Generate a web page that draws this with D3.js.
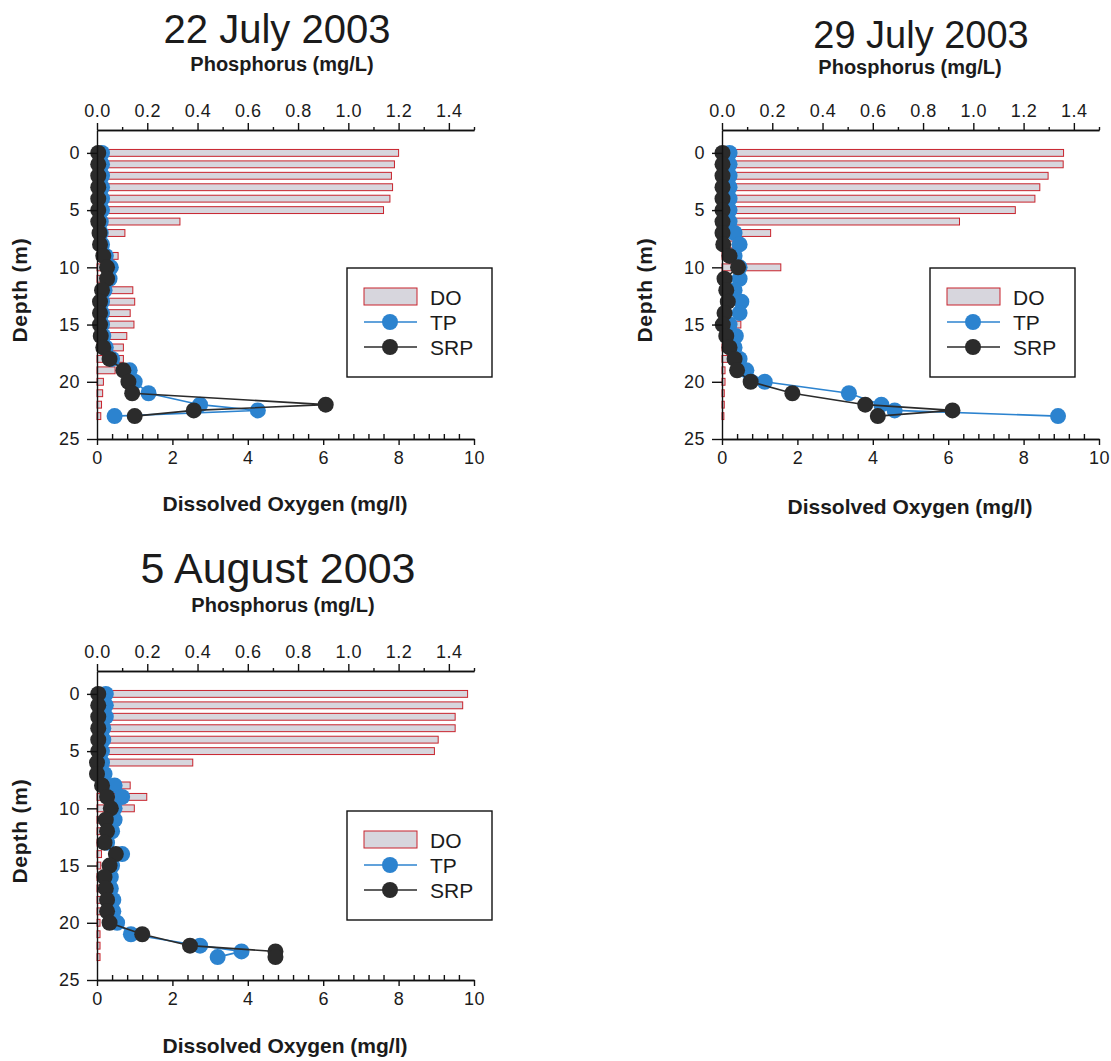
<!DOCTYPE html>
<html>
<head>
<meta charset="utf-8">
<script src="https://cdn.jsdelivr.net/npm/d3@7"></script>
<style>
  body { margin: 0; background: #fff; }
  text { font-family: "Liberation Sans", Arial, sans-serif; fill: #1b1b1b; }
</style>
</head>
<body>
<div id="chart"></div>
<script>
// depth (m) of each DO reading
const doDepths = [0, 1, 2, 3, 4, 5, 6, 7, 8, 9, 10, 11, 12, 13, 14, 15, 16, 17, 18, 19, 20, 21, 22, 23]
// dissolved oxygen (mg/l)
const do22Jul = [8.0, 7.89, 7.81, 7.84, 7.77, 7.6, 2.2, 0.74, 0.2, 0.56, 0.2, 0.2, 0.95, 1.0, 0.88, 0.98, 0.79, 0.7, 0.7, 0.48, 0.17, 0.15, 0.12, 0.1]
const do29Jul = [9.06, 9.05, 8.65, 8.43, 8.3, 7.78, 6.3, 1.29, 0.6, 0.2, 1.56, 0.2, 0.2, 0.2, 0.2, 0.5, 0.2, 0.2, 0.15, 0.08, 0.08, 0.06, 0.06, 0.05]
const do05Aug = [9.83, 9.7, 9.5, 9.5, 9.05, 8.95, 2.54, 0.2, 0.88, 1.32, 0.99, 0.2, 0.2, 0.2, 0.12, 0.1, 0.1, 0.1, 0.1, 0.1, 0.08, 0.08, 0.08, 0.08]

// depth (m) of each phosphorus sample
const pDepths = [0, 1, 2, 3, 4, 5, 6, 7, 8, 9, 10, 11, 12, 13, 14, 15, 16, 17, 18, 19, 20, 21, 22, 22.5, 23]
// total phosphorus / soluble reactive phosphorus (mg/L)
const tp22Jul = [0.02, 0.02, 0.02, 0.02, 0.02, 0.02, 0.015, 0.015, 0.02, 0.035, 0.055, 0.05, 0.03, 0.02, 0.02, 0.02, 0.025, 0.035, 0.06, 0.13, 0.15, 0.205, 0.41, 0.64, 0.07]
const srp22Jul = [0.005, 0.005, 0.005, 0.005, 0.005, 0.005, 0.005, 0.01, 0.012, 0.025, 0.04, 0.04, 0.02, 0.012, 0.012, 0.012, 0.015, 0.025, 0.05, 0.105, 0.125, 0.14, 0.91, 0.385, 0.15]
const tp29Jul = [0.03, 0.03, 0.03, 0.03, 0.03, 0.03, 0.03, 0.05, 0.07, 0.05, 0.07, 0.07, 0.05, 0.077, 0.07, 0.03, 0.055, 0.05, 0.07, 0.097, 0.17, 0.505, 0.634, 0.687, 1.337]
const srp29Jul = [0.002, 0.002, 0.002, 0.002, 0.002, 0.002, 0.002, 0.002, 0.005, 0.03, 0.064, 0.01, 0.017, 0.023, 0.01, 0.003, 0.017, 0.03, 0.05, 0.06, 0.114, 0.28, 0.57, 0.917, 0.62]
const tp05Aug = [0.035, 0.035, 0.035, 0.025, 0.025, 0.02, 0.02, 0.03, 0.07, 0.1, 0.07, 0.07, 0.06, 0.04, 0.1, 0.06, 0.055, 0.055, 0.065, 0.065, 0.08, 0.135, 0.41, 0.575, 0.48]
const srp05Aug = [0.005, 0.005, 0.005, 0.005, 0.005, 0.005, 0.0, 0.0, 0.02, 0.04, 0.055, 0.035, 0.04, 0.03, 0.075, 0.05, 0.03, 0.035, 0.04, 0.04, 0.05, 0.18, 0.37, 0.71, 0.71]

const pTicks = [0, 0.2, 0.4, 0.6, 0.8, 1.0, 1.2, 1.4]
const doTicks = [0, 2, 4, 6, 8, 10]
const depthTicks = [0, 5, 10, 15, 20, 25]
const seriesNames = ["DO", "TP", "SRP"]

const panels = [
  { title: "22 July 2003", left: 97, top: 130, doV: do22Jul, tp: tp22Jul, srp: srp22Jul,
    titleX: 180, titleY: -87, titleSize: 40, phX: 185, phY: -59, legX: 250, legY: 138, doY: 381 },
  { title: "29 July 2003", left: 722, top: 130, doV: do29Jul, tp: tp29Jul, srp: srp29Jul,
    titleX: 199, titleY: -82, titleSize: 38, phX: 188, phY: -56, legX: 208, legY: 138, doY: 384 },
  { title: "5 August 2003", left: 97, top: 671, doV: do05Aug, tp: tp05Aug, srp: srp05Aug,
    titleX: 181, titleY: -88, titleSize: 43, phX: 186, phY: -59, legX: 250, legY: 140, doY: 382 }
]

const W = 1111, H = 1061
const width = 377, height = 309
const red = "#c8232c", barFill = "#d7d6dd", blue = "#2c83cf", dark = "#2b2b2b"

const svg = d3.select("#chart").append("svg")
  .attr("width", W)
  .attr("height", H)

function drawPanel(p) {
  const g = svg.append("g").attr("transform", `translate(${p.left}, ${p.top})`)

  const xDO = d3.scaleLinear().domain([0, 10]).range([0, width])
  const xP = d3.scaleLinear().domain([0, 1.5]).range([0, width])
  const y = d3.scaleLinear().domain([-2, 25]).range([0, height])

  // titles
  g.append("text").attr("x", p.titleX).attr("y", p.titleY)
    .attr("text-anchor", "middle").style("font-size", p.titleSize + "px").text(p.title)
  g.append("text").attr("x", p.phX).attr("y", p.phY)
    .attr("text-anchor", "middle").style("font-size", "20px").style("font-weight", "bold")
    .text("Phosphorus (mg/L)")

  // DO bars
  const bars = doDepths.map((d, i) => ({ depth: d, v: p.doV[i] }))
  g.selectAll(".bar").data(bars).enter().append("rect")
    .attr("class", "bar")
    .attr("x", xDO(0))
    .attr("y", d => y(d.depth - 0.3))
    .attr("width", d => xDO(d.v) - xDO(0))
    .attr("height", d => y(d.depth + 0.3) - y(d.depth - 0.3))
    .style("fill", barFill).style("stroke", red).style("stroke-width", 1)

  // phosphorus profiles
  const line = d3.line().x(d => xP(d.v)).y(d => y(d.depth))
  const series = [
    { name: "TP", vals: p.tp, color: blue },
    { name: "SRP", vals: p.srp, color: dark }
  ]
  series.forEach(s => {
    const pts = pDepths.map((d, i) => ({ depth: d, v: s.vals[i] }))
    g.append("path").datum(pts).attr("d", line)
      .style("fill", "none").style("stroke", s.color).style("stroke-width", 1.6)
    g.selectAll(".pt-" + s.name).data(pts).enter().append("circle")
      .attr("class", "pt-" + s.name)
      .attr("cx", d => xP(d.v)).attr("cy", d => y(d.depth)).attr("r", 8)
      .style("fill", s.color)
  })

  // axes
  g.append("g").attr("class", "axis")
    .call(d3.axisTop(xP).tickValues(pTicks).tickFormat(d3.format(".1f")).tickSize(7).tickSizeOuter(0).tickPadding(6))
  g.append("g").attr("class", "axis minor")
    .call(d3.axisTop(xP).tickValues([0.1, 0.3, 0.5, 0.7, 0.9, 1.1, 1.3, 1.5]).tickFormat("").tickSize(3).tickSizeOuter(0))
  g.append("g").attr("class", "axis").attr("transform", `translate(0, ${height})`)
    .call(d3.axisBottom(xDO).tickValues(doTicks).tickSize(6).tickSizeOuter(0).tickPadding(6))
  g.append("g").attr("class", "axis minor").attr("transform", `translate(0, ${height})`)
    .call(d3.axisBottom(xDO).tickValues([0.4, 0.8, 1.2, 1.6, 2.4, 2.8, 3.2, 3.6, 4.4, 4.8, 5.2, 5.6, 6.4, 6.8, 7.2, 7.6, 8.4, 8.8, 9.2, 9.6]).tickFormat("").tickSize(-5).tickSizeOuter(0))
  g.append("g").attr("class", "axis")
    .call(d3.axisLeft(y).tickValues(depthTicks).tickSize(10).tickSizeOuter(0).tickPadding(7))

  g.selectAll(".axis path, .axis line").style("stroke", "#111").style("stroke-width", 1.4)
  g.selectAll(".axis text").style("font-size", "18px").style("letter-spacing", "0.5px")
    .style("font-family", "'Liberation Sans', Arial, sans-serif").style("fill", "#1b1b1b")

  // axis titles
  g.append("text").attr("transform", `translate(-70, 160) rotate(-90)`)
    .attr("text-anchor", "middle").style("font-size", "21px").style("font-weight", "bold")
    .style("letter-spacing", "0.8px")
    .text("Depth (m)")
  g.append("text").attr("x", 188).attr("y", p.doY)
    .attr("text-anchor", "middle").style("font-size", "21px").style("font-weight", "bold")
    .text("Dissolved Oxygen (mg/l)")

  // legend
  const lg = g.append("g").attr("transform", `translate(${p.legX}, ${p.legY})`)
  lg.append("rect").attr("width", 145).attr("height", 109)
    .style("fill", "#fff").style("stroke", "#111").style("stroke-width", 1.4)
  const item = lg.selectAll(".legend").data(seriesNames).enter().append("g")
    .attr("class", "legend")
    .attr("transform", (d, i) => `translate(17, ${29 + i * 25})`)
  item.each(function (d) {
    const it = d3.select(this)
    if (d === "DO") {
      it.append("rect").attr("x", 0).attr("y", -9).attr("width", 53).attr("height", 17)
        .style("fill", barFill).style("stroke", red).style("stroke-width", 1)
    } else {
      const c = d === "TP" ? blue : dark
      it.append("line").attr("x1", 0).attr("x2", 53).style("stroke", c).style("stroke-width", 1.6)
      it.append("circle").attr("cx", 26).attr("r", 8).style("fill", c)
    }
    it.append("text").attr("x", 66).attr("dy", "0.36em").style("font-size", "21px").text(d)
  })
}

panels.forEach(drawPanel)
</script>
</body>
</html>
